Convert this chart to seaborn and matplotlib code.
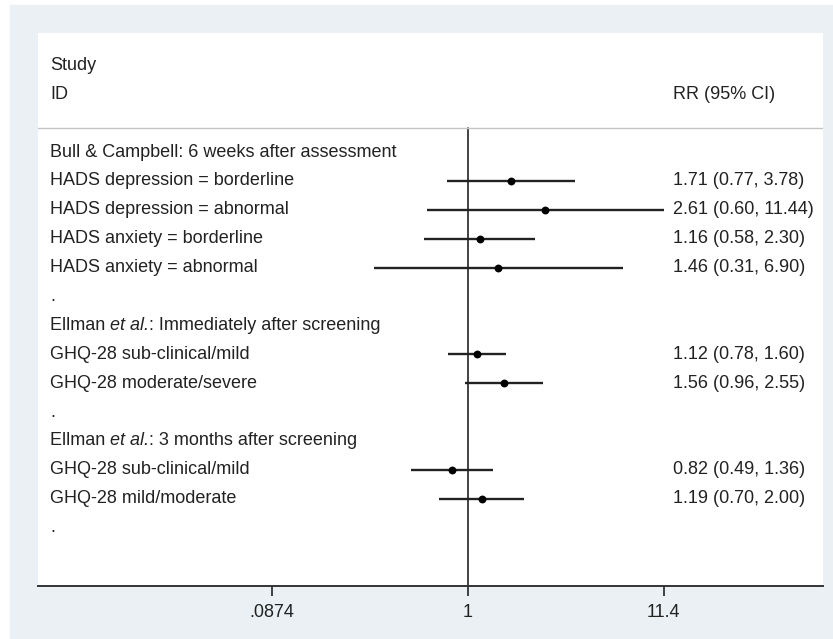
'''Forest plot of relative risks (Stata metan style) redrawn with seaborn.'''

import numpy as np
import pandas as pd
import matplotlib
matplotlib.use("Agg")
import matplotlib.pyplot as plt
import seaborn as sns
from matplotlib.patches import Rectangle

#data
row_labels = [
    "Bull & Campbell: 6 weeks after assessment",
    "HADS depression = borderline",
    "HADS depression = abnormal",
    "HADS anxiety = borderline",
    "HADS anxiety = abnormal",
    ".",
    "Ellman et al.: Immediately after screening",
    "GHQ-28 sub-clinical/mild",
    "GHQ-28 moderate/severe",
    ".",
    "Ellman et al.: 3 months after screening",
    "GHQ-28 sub-clinical/mild",
    "GHQ-28 mild/moderate",
    ".",
]
rr = [np.nan, 1.71, 2.61, 1.16, 1.46, np.nan, np.nan, 1.12, 1.56, np.nan, np.nan, 0.82, 1.19, np.nan]
ci_lo = [np.nan, 0.77, 0.60, 0.58, 0.31, np.nan, np.nan, 0.78, 0.96, np.nan, np.nan, 0.49, 0.70, np.nan]
ci_hi = [np.nan, 3.78, 11.44, 2.30, 6.90, np.nan, np.nan, 1.60, 2.55, np.nan, np.nan, 1.36, 2.00, np.nan]
x_ticks = [0.0874, 1, 11.4]
x_tick_labels = [".0874", "1", "11.4"]

df = pd.DataFrame({"label": row_labels, "rr": rr, "lo": ci_lo, "hi": ci_hi})
df["row"] = np.arange(len(df))

#style
sns.set_theme(style="white")
plt.rcParams['font.family'] = ['Liberation Sans', 'DejaVu Sans']
bg = "#eaf0f3"
ink = "#222222"
fs = 13

fig = plt.figure(figsize=(8.33, 6.39), dpi=100, facecolor="white")
fig.patches.append(Rectangle((10 / 833, 0), 1, 1 - 5 / 639, transform=fig.transFigure,
                             color=bg, zorder=-10))
ax = fig.add_axes([38 / 833, 1 - 586 / 639, 785 / 833, 553 / 639])
ax.set_facecolor("white")
ax.set_zorder(5)

#x on log scale, 1 centred between the outer ticks
ax.set_xscale("log")
px_per_ln = 196 / np.log(1 / 0.0874)
ax.set_xlim(np.exp((38 - 468) / px_per_ln), np.exp((823 - 468) / px_per_ln))
ax.set_ylim(15.02, -4.12)

data = df.dropna()
ax.hlines(data["row"], data["lo"], data["hi"], color=ink, linewidth=1.7, zorder=2)
sns.scatterplot(data=data, x="rr", y="row", ax=ax, color="black", s=32,
                edgecolor="black", linewidth=0, zorder=3, legend=False)

#null line and header separator
ax.axvline(1, ymin=0, ymax=(15.02 - (-0.83)) / (15.02 + 4.12), color=ink, linewidth=1.2, zorder=1)
ax.axhline(-0.83, color="#c4c4c4", linewidth=1.0, zorder=1)

#text columns
tx_left = 12 / 785
tx_right = 635 / 785
trans = ax.get_yaxis_transform()
ax.text(tx_left, -3, "Study", transform=trans, fontsize=fs, va="center", color=ink)
ax.text(tx_left, -2, "ID", transform=trans, fontsize=fs, va="center", color=ink)
ax.text(tx_right, -2, "RR (95% CI)", transform=trans, fontsize=fs, va="center", color=ink)

for _, r in df.iterrows():
    label = r["label"]
    if "et al." in label:
        # "et al." is set in italics, the rest upright
        head, tail = label.split("et al.", 1)
        t = ax.text(tx_left, r["row"], head, transform=trans, fontsize=fs, va="center", color=ink)
        t = ax.annotate("et al.", xy=(1, 0), xycoords=t, fontsize=fs, style="italic",
                        va="bottom", ha="left", color=ink)
        ax.annotate(tail, xy=(1, 0), xycoords=t, fontsize=fs, va="bottom", ha="left", color=ink)
    else:
        ax.text(tx_left, r["row"], label, transform=trans, fontsize=fs, va="center", color=ink)
    if not np.isnan(r["rr"]):
        ax.text(tx_right, r["row"], f'{r["rr"]:.2f} ({r["lo"]:.2f}, {r["hi"]:.2f})',
                transform=trans, fontsize=fs, va="center", color=ink)

#axes
ax.set_xticks(x_ticks)
ax.set_xticklabels(x_tick_labels, fontsize=fs, color=ink)
ax.xaxis.set_minor_locator(matplotlib.ticker.NullLocator())
ax.tick_params(axis="x", direction="out", length=7, width=1.2, color=ink, pad=6, bottom=True)
ax.set_yticks([])
ax.set_xlabel("")
ax.set_ylabel("")
for side in ["top", "left", "right"]:
    ax.spines[side].set_visible(False)
ax.spines["bottom"].set_color("#333333")
ax.spines["bottom"].set_linewidth(1.4)

plt.savefig("out.png", dpi=100, facecolor=fig.get_facecolor())
plt.close()
